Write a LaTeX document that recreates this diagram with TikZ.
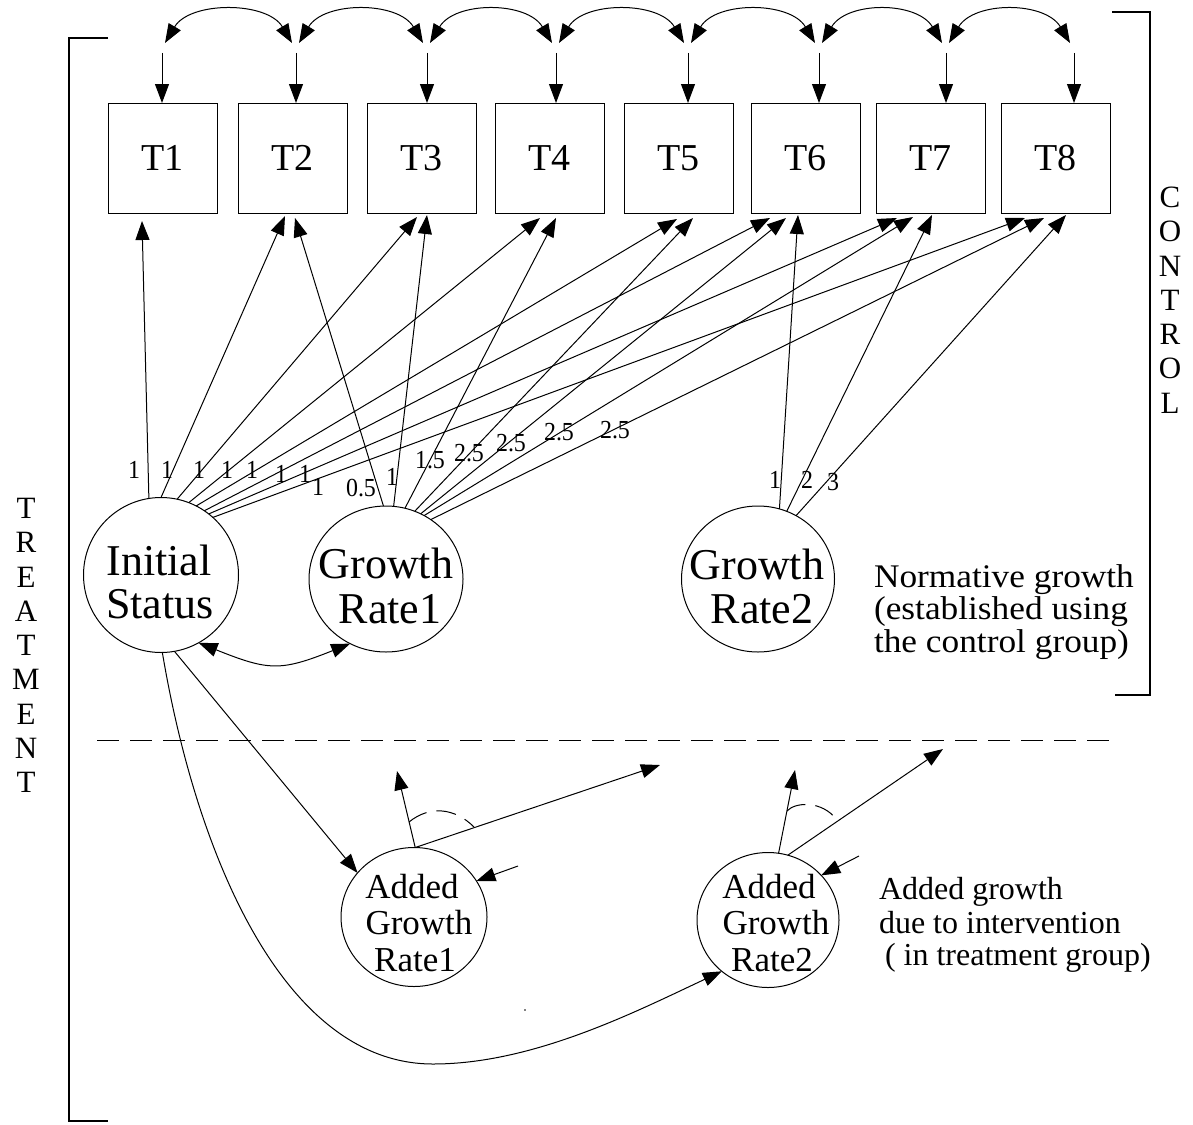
\documentclass[tikz,border=0pt]{standalone}
\usepackage{fontspec}
\setmainfont{Liberation Serif}
\usetikzlibrary{arrows.meta,shapes.geometric,calc}
\begin{document}
\begin{tikzpicture}[x=1pt,y=-1pt,
  every node/.style={inner sep=0pt, outer sep=0pt},
  obs/.style={draw, line width=1pt, minimum width=109pt, minimum height=110pt, font=\fontsize{38}{38}\selectfont},
  latent/.style={draw, ellipse, line width=1pt},
  lbl/.style={font=\fontsize{26}{26}\selectfont},
  big/.style={font=\fontsize{44}{44}\selectfont, anchor=base},
  mid/.style={font=\fontsize{35}{35}\selectfont, anchor=base},
  note/.style={font=\fontsize{33}{33}\selectfont, anchor=base west},
  note2/.style={font=\fontsize{32}{32}\selectfont, anchor=base west},
  vert/.style={font=\fontsize{31}{34.25}\selectfont, align=center},
  conn/.style={line width=1pt, -{Triangle[length=19pt,width=14pt]}},
  dconn/.style={line width=1pt, {Triangle[length=19pt,width=14pt]}-{Triangle[length=19pt,width=14pt]}},
  bracket/.style={line width=2pt},
  corrarc/.style={line width=1pt, dash pattern=on 20pt off 10pt},
  sep/.style={line width=0.8pt, dash pattern=on 22pt off 11pt},
]
\useasboundingbox (0,0) rectangle (1193,1124);

% observed boxes
\node[obs] (T1) at (162.5,158) {T1};
\node[obs] (T2) at (292.5,158) {T2};
\node[obs] (T3) at (421.5,158) {T3};
\node[obs] (T4) at (549.5,158) {T4};
\node[obs] (T5) at (678.5,158) {T5};
\node[obs] (T6) at (805.5,158) {T6};
\node[obs] (T7) at (930.5,158) {T7};
\node[obs] (T8) at (1055.5,158) {T8};

% error terms
\coordinate (e1) at (162,53);
\coordinate (e2) at (296,53);
\coordinate (e3) at (427,53);
\coordinate (e4) at (556,53);
\coordinate (e5) at (688,53);
\coordinate (e6) at (819,53);
\coordinate (e7) at (946,53);
\coordinate (e8) at (1074,53);
\foreach \i in {1,...,8}{\draw[conn] (e\i) -- (e\i |- T\i.north);}
\foreach \i/\j in {1/2,2/3,3/4,4/5,5/6,6/7,7/8}{
  \draw[dconn] ($(e\i)+(3,-10)$) .. controls +(25,-42) and +(-25,-42) .. ($(e\j)+(-4,-10)$);}

% latent factors
\node[latent, minimum width=155pt, minimum height=155pt] (IS) at (161,575) {};
\node[latent, minimum width=154pt, minimum height=146pt] (GR1) at (386,579) {};
\node[latent, minimum width=153pt, minimum height=146pt] (GR2) at (758,579) {};
\node[latent, minimum width=146pt, minimum height=139pt] (AGR1) at (414,917) {};
\node[latent, minimum width=142pt, minimum height=135pt] (AGR2) at (768,920) {};

\node[big] (ISa) at (159,575) {Initial};
\node[big] (ISb) at (160,618) {Status};
\node[big] (GR1a) at (386,578) {Growth};
\node[big] (GR1b) at (390,623) {Rate1};
\node[big] (GR2a) at (757,579) {Growth};
\node[big] (GR2b) at (762,623) {Rate2};
\node[mid] (AGR1a) at (412,898) {Added};
\node[mid] (AGR1b) at (419,934) {Growth};
\node[mid] (AGR1c) at (415,971) {Rate1};
\node[mid] (AGR2a) at (769,898) {Added};
\node[mid] (AGR2b) at (776,934) {Growth};
\node[mid] (AGR2c) at (772,971) {Rate2};

% loadings: initial status
\draw[conn] (IS.99) -- ($(T1.south west)+(34,8)$);
\draw[conn] (IS.90) -- ($(T2.south west)+(47,3)$);
\draw[conn] (IS.78) -- ($(T3.south west)+(50,4)$);
\draw[conn] (IS.69) -- ($(T4.south west)+(45,5)$);
\draw[conn] (IS.63) -- ($(T5.south west)+(53,6)$);
\draw[conn] (IS.56) -- ($(T6.south west)+(19,5)$);
\draw[conn] (IS.52) -- ($(T7.south west)+(21,5)$);
\draw[conn] (IS.48) -- ($(T8.south west)+(24,5)$);
% growth rate 1
\draw[conn] (GR1.92) -- ($(T2.south west)+(57,5)$);
\draw[conn] (GR1.84) -- ($(T3.south west)+(60,2)$);
\draw[conn] (GR1.75) -- ($(T4.south west)+(61,5)$);
\draw[conn] (GR1.67) -- ($(T5.south west)+(69,5)$);
\draw[conn] (GR1.62) -- ($(T6.south west)+(35,5)$);
\draw[conn] (GR1.59) -- ($(T7.south west)+(37,4)$);
\draw[conn] (GR1.53) -- ($(T8.south west)+(43,5)$);
% growth rate 2
\draw[conn] (GR2.73) -- ($(T6.south west)+(47,2)$);
\draw[conn] (GR2.67) -- ($(T7.south west)+(56,2)$);
\draw[conn] (GR2.59) -- ($(T8.south west)+(65,2)$);

% loading labels
\node[lbl] (l1) at (134,470) {\scalebox{0.92}[1]{1}};
\node[lbl] (l2) at (167,470) {\scalebox{0.92}[1]{1}};
\node[lbl] (l3) at (199,470) {\scalebox{0.92}[1]{1}};
\node[lbl] (l4) at (227,470) {\scalebox{0.92}[1]{1}};
\node[lbl] (l5) at (252,470) {\scalebox{0.92}[1]{1}};
\node[lbl] (l6) at (281,474) {\scalebox{0.92}[1]{1}};
\node[lbl] (l7) at (305,474) {\scalebox{0.92}[1]{1}};
\node[lbl] (l8) at (318,487) {\scalebox{0.92}[1]{1}};
\node[lbl] (m2) at (361,488) {\scalebox{0.92}[1]{0.5}};
\node[lbl] (m3) at (392,477) {\scalebox{0.92}[1]{1}};
\node[lbl] (m4) at (430,460) {\scalebox{0.92}[1]{1.5}};
\node[lbl] (m5) at (469,453) {\scalebox{0.92}[1]{2.5}};
\node[lbl] (m6) at (511,443) {\scalebox{0.92}[1]{2.5}};
\node[lbl] (m7) at (559,432) {\scalebox{0.92}[1]{2.5}};
\node[lbl] (m8) at (615,430) {\scalebox{0.92}[1]{2.5}};
\node[lbl] (n6) at (775,480) {\scalebox{0.92}[1]{1}};
\node[lbl] (n7) at (807,480) {\scalebox{0.92}[1]{2}};
\node[lbl] (n8) at (833,482) {\scalebox{0.92}[1]{3}};

% covariance initial status - growth rate 1
\draw[dconn] (IS.299) .. controls +(70,28) and +(-70,28) .. (GR1.241);

% separator
\draw[sep] (97,740) -- (1117,740);

% treatment part
\coordinate (low) at (433,1064);
\draw[conn] (IS.280) -- (AGR1.142);
\draw[conn] (IS.271) .. controls (196,853) and (283,1064) .. (low)
  .. controls (533,1064) and (635,1012) .. (AGR2.228);

\coordinate (a1up) at (397,771);
\coordinate (a1rt) at (660,765);
\coordinate (a1in) at (518,866);
\draw[conn] (AGR1.89) -- (a1up);
\draw[conn] (AGR1.89) -- (a1rt);
\draw[conn] (a1in) -- (AGR1.30);
\draw[corrarc] (409,822) .. controls (430,805) and (455,808) .. (474,827);

\coordinate (a2up) at (795,770);
\coordinate (a2rt) at (943,749);
\coordinate (a2in) at (859,856);
\draw[conn] (AGR2.81) -- (a2up);
\draw[conn] (AGR2.73) -- (a2rt);
\draw[conn] (a2in) -- (AGR2.40);
\draw[corrarc] (787,811) .. controls (795,802) and (822,800) .. (837,820);

\fill (525,1010) circle (0.9pt);

% notes
\node[note] (no1) at (874,587) {\scalebox{1.07}[1]{Normative growth}};
\node[note] (no2) at (874,619) {\scalebox{1.07}[1]{(established using}};
\node[note] (no3) at (874,652) {\scalebox{1.07}[1]{the control group)}};
\node[note2] (ad1) at (879,899) {Added growth};
\node[note2] (ad2) at (879,933) {due to intervention};
\node[note2] (ad3) at (885,965) {( in treatment group)};

% brackets
\draw[bracket] (1112,12) -- (1150,12) -- (1150,695) -- (1115,695);
\draw[bracket] (108,38) -- (69,38) -- (69,1121) -- (108,1121);

\node[vert] (ctl) at (1170,300) {C\\O\\N\\T\\R\\O\\L};
\node[vert] (trt) at (26,645.5) {T\\R\\E\\A\\T\\M\\E\\N\\T};
\end{tikzpicture}
\end{document}
